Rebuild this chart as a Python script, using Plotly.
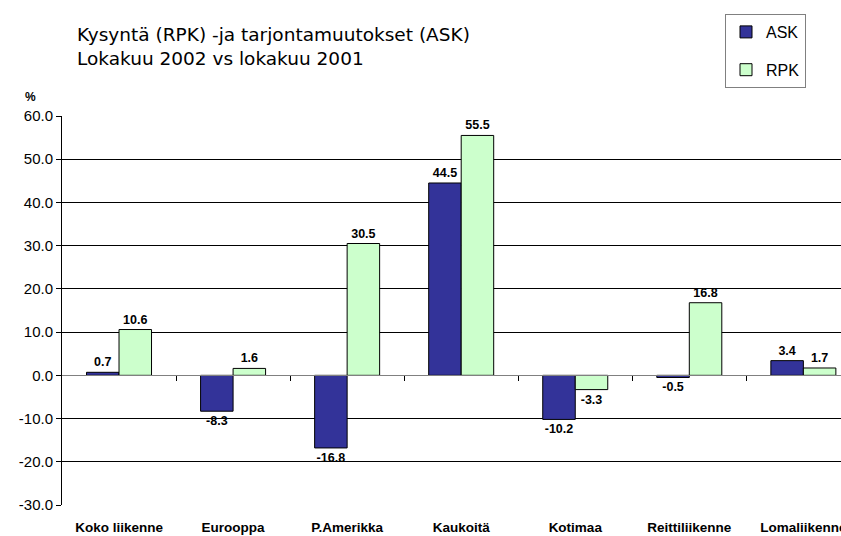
import plotly.graph_objects as go

categories = ["Koko liikenne", "Eurooppa", "P.Amerikka", "Kaukoitä", "Kotimaa", "Reittiliikenne", "Lomaliikenne"]
ask = [0.7, -8.3, -16.8, 44.5, -10.2, -0.5, 3.4]
rpk = [10.6, 1.6, 30.5, 55.5, -3.3, 16.8, 1.7]
y_ticks = [60, 50, 40, 30, 20, 10, 0, -10, -20, -30]
title_lines = ["Kysyntä (RPK) -ja tarjontamuutokset (ASK)", "Lokakuu 2002 vs lokakuu 2001"]

W, H = 841, 536
L, T, B = 62, 116, 505
PW, PH = W - L, B - T

def px(xp):
    return (xp - L) / PW

def py(yp):
    return (B - yp) / PH

x = list(range(len(categories)))
lab_font = dict(family="Arial, Liberation Sans", size=12.5, color="black", weight="bold")

fig = go.Figure()
fig.add_trace(go.Bar(
    x=x, y=ask, name="ASK", legendgroup="a",
    marker=dict(color="#333399", line=dict(color="black", width=1)),
    text=[f"{v:.1f}" for v in ask], textposition="outside",
    textfont=lab_font, cliponaxis=False,
))
fig.add_trace(go.Bar(
    x=x, y=rpk, name="RPK", legendgroup="b",
    marker=dict(color="#CCFFCC", line=dict(color="black", width=1)),
    text=[f"{v:.1f}" for v in rpk], textposition="outside",
    textfont=lab_font, cliponaxis=False,
))
# invisible trace for the zero-crossing category axis
fig.add_trace(go.Scatter(x=x, y=[0] * len(x), xaxis="x2", mode="none",
                         showlegend=False, hoverinfo="skip"))

fig.update_layout(
    width=W, height=H,
    margin=dict(l=L, r=0, t=T, b=H - B, autoexpand=False),
    paper_bgcolor="white", plot_bgcolor="white",
    barmode="group", bargap=0.43, bargroupgap=0,
    font=dict(family="Arial, Liberation Sans", color="black"),
    title=dict(text="<br>".join(title_lines),
               font=dict(family="DejaVu Sans, Verdana", size=18.5, color="black"),
               x=77 / W, xanchor="left", xref="container",
               y=1 - 41 / H, yanchor="top", yref="container"),
    xaxis=dict(
        range=[-0.5, 6.33], tickmode="array", tickvals=x, ticktext=categories,
        showgrid=False, zeroline=False, showline=False, ticks="",
        tickfont=dict(family="Arial, Liberation Sans", size=13.5, color="black", weight="bold"),
        ticklabelstandoff=12, ticklabeloverflow="allow",
    ),
    xaxis2=dict(
        overlaying="x", anchor="free", position=1 / 3, side="bottom",
        range=[-0.5, 6.33], tickmode="array",
        tickvals=[i + 0.5 for i in range(len(categories) - 1)],
        ticks="outside", ticklen=5, tickcolor="black", showticklabels=False,
        showgrid=False, zeroline=False, showline=True, linecolor="#808080", linewidth=1,
    ),
    yaxis=dict(
        range=[-30, 60], tickmode="array", tickvals=y_ticks,
        ticktext=[f"{v:.1f}" for v in y_ticks],
        showgrid=True, gridcolor="black", gridwidth=1,
        zeroline=False, showline=True, linecolor="black", linewidth=1,
        ticks="outside", ticklen=5, tickcolor="black",
        tickfont=dict(family="Arial, Liberation Sans", size=15, color="black"),
    ),
    legend=dict(
        x=px(725), xanchor="left", y=py(14), yanchor="top",
        bordercolor="#808080", borderwidth=1, bgcolor="white",
        font=dict(family="Arial, Liberation Sans", size=16, color="black"),
        tracegroupgap=14, traceorder="grouped", itemwidth=30,
        entrywidth=100, entrywidthmode="pixels",
    ),
    annotations=[dict(text="<b>%</b>", x=px(30), y=py(97), xref="paper", yref="paper",
                      showarrow=False, xanchor="center", yanchor="middle",
                      font=dict(family="Arial, Liberation Sans", size=12, color="black"))],
)

fig.write_html("out.html", config={"displayModeBar": False},
               post_script="document.body.style.margin='0';")
